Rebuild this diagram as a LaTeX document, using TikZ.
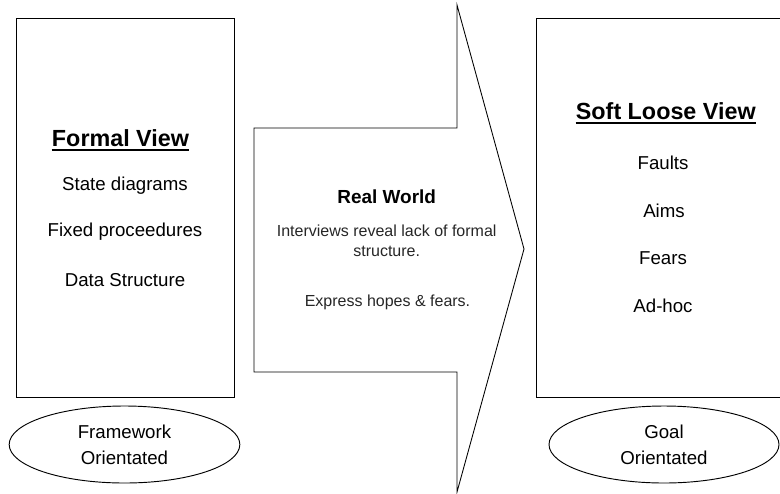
\documentclass[tikz,border=0pt]{standalone}
\usepackage{fontspec}
\setmainfont{Liberation Sans}
\usetikzlibrary{shapes.geometric}
\begin{document}
\begin{tikzpicture}[x=0.75pt,y=-0.75pt,
  outline/.style={draw=black,line width=0.75pt},
  heading/.style={font=\fontsize{17.5}{21}\selectfont\bfseries,anchor=base,inner sep=0pt},
  item/.style={font=\fontsize{14}{17}\selectfont,anchor=base,inner sep=0pt},
  midhead/.style={font=\fontsize{14.2}{17}\selectfont\bfseries,anchor=base,inner sep=0pt},
  midtext/.style={font=\fontsize{12}{15}\selectfont,anchor=base,inner sep=0pt,text=black!85},
  oval/.style={draw=black,line width=0.7pt,ellipse,minimum width=173pt,minimum height=57.75pt,
    align=center,font=\fontsize{14}{19.3}\selectfont,inner sep=0pt},
  rule/.style={line width=1.5pt}]
\useasboundingbox (0,0) rectangle (780,493);
\clip (0,0) rectangle (780,493);

% left panel: the formal view
\draw[outline] (16,18) rectangle (234,397);
\node[heading] (fv) at (120.5,146.7) {Formal View\hspace{0.3em}};
\draw[rule] ([yshift=-2.4pt]fv.base west) -- ([yshift=-2.4pt]fv.base east);
\node[item] (sd) at (125,190) {State diagrams};
\node[item] (fp) at (125,236.7) {Fixed proceedures};
\node[item] (ds) at (125,286) {Data Structure};
\node[oval] (fwo) at (124.5,444.5) {Framework\\Orientated};

% middle: the big block arrow
\draw[outline,line width=0.65pt] (254,128) -- (457,128) -- (457,5) -- (524,249)
  -- (457,492) -- (457,372) -- (254,372) -- cycle;
\node[midhead] (rw) at (386.7,203.3) {Real World};
\node[midtext] (iv1) at (386.7,236) {Interviews reveal lack of formal};
\node[midtext] (iv2) at (386.7,256) {structure.};
\node[midtext] (ex) at (387.5,306) {Express hopes \& fears.};

% right panel: the soft loose view
\draw[outline] (536,18) rectangle (800,397);
\node[heading] (slv) at (665.8,119.3) {Soft Loose View\hspace{0.3em}};
\draw[rule] ([yshift=-2.4pt]slv.base west) -- ([yshift=-2.4pt]slv.base east);
\node[item] (fa) at (663,169) {Faults};
\node[item] (ai) at (664,217.7) {Aims};
\node[item] (fe) at (663,264) {Fears};
\node[item] (ah) at (663,312.3) {Ad-hoc};
\node[oval,minimum width=172.5pt] (go) at (664,444.5) {Goal\\Orientated};
\end{tikzpicture}
\end{document}
